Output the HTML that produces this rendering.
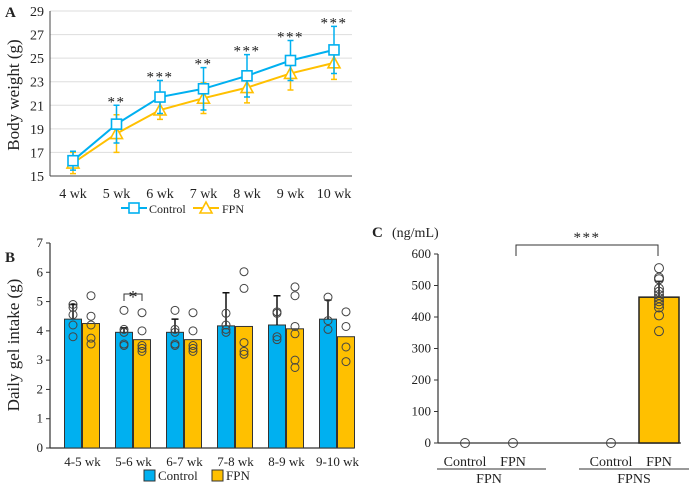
<!DOCTYPE html>
<html><head><meta charset="utf-8"><style>
body{margin:0;background:#fff;}
svg{display:block;font-family:"Liberation Serif",serif;}
</style></head><body>
<svg id="s" width="689" height="486" viewBox="0 0 689 486" xmlns="http://www.w3.org/2000/svg"></svg>
<script>
// Panel A data
const weeksA = ["4 wk","5 wk","6 wk","7 wk","8 wk","9 wk","10 wk"];
const ctrlA = [16.3,19.4,21.7,22.4,23.5,24.8,25.7];
const ctrlAErr = [0.8,1.6,1.4,1.8,1.8,1.7,2.0];
const fpnA = [16.1,18.6,20.6,21.6,22.5,23.7,24.6];
const fpnAErr = [0.9,1.6,0.8,1.3,1.3,1.4,1.4];
const sigA = ["","**","***","**","***","***","***"];
const ticksA = [15,17,19,21,23,25,27,29];
// Panel B data
const catsB = ["4-5 wk","5-6 wk","6-7 wk","7-8 wk","8-9 wk","9-10 wk"];
const ctrlB = [4.4,3.95,3.95,4.17,4.2,4.4];
const ctrlBErr = [0.5,0.15,0.45,1.13,1.0,0.65];
const fpnB = [4.25,3.7,3.7,4.15,4.07,3.8];
const ctrlBDots = [[4.9,4.8,4.55,4.2,3.8],[4.7,4.05,3.95,3.55,3.5],[4.7,4.05,3.95,3.55,3.5],[4.6,4.2,4.05,3.95],[4.65,4.6,3.8,3.7],[5.15,4.35,4.05]];
const fpnBDots = [[5.2,4.5,4.2,3.75,3.55],[4.62,4.0,3.5,3.4,3.3],[4.62,4.0,3.5,3.4,3.3],[6.02,5.45,3.6,3.3,3.2],[5.5,5.2,4.15,3.9,3.0,2.75],[4.65,4.15,3.45,2.95]];
const ticksB = [0,1,2,3,4,5,6,7];
// Panel C data
const catsC = ["Control","FPN","Control","FPN"];
const groupsC = ["FPN","FPNS"];
const meansC = [0,0,0,463];
const errC = [0,0,0,50];
const dotsC = [[0],[0],[0],[555,525,520,490,480,470,460,450,440,430,405,355]];
const ticksC = [0,100,200,300,400,500,600];

const S = document.getElementById('s');
const NS = "http://www.w3.org/2000/svg";
function el(t,a,p){const e=document.createElementNS(NS,t);for(const k in a)e.setAttribute(k,a[k]);(p||S).appendChild(e);return e;}
function tx(x,y,s,size,anchor,name,p){const e=el('text',{x:x,y:y,'font-size':size,'text-anchor':anchor||'middle',fill:'#222'},p);e.textContent=s;return e;}
const BLUE="#00B0F0", YEL="#FFC000";

// ---------- Panel A ----------
const yA = v => 176 - (v-15)*(165/14);
const xA = i => 73 + i*43.5;
tx(5,17,"A",15,"start","panel-a-label").setAttribute('font-weight','bold');
ticksA.forEach(t=>{
  const g=el('line',{x1:50,x2:352,y1:yA(t),y2:yA(t),stroke:t==15?'#444':'#ddd','stroke-width':1});
  
  tx(44,yA(t)+5,String(t),14,"end","a-y-tick");
});
el('line',{x1:50,x2:50,y1:yA(29),y2:yA(15),stroke:'#444'});
const yt=tx(19,95,"Body weight (g)",17,"middle","a-y-axis-title");yt.setAttribute('transform','rotate(-90 19 95)');
weeksA.forEach((w,i)=>tx(xA(i),198,w,14,"middle","a-x-tick"));
function series(vals,err,col,shape,name){
  const pts=vals.map((v,i)=>xA(i)+','+yA(v)).join(' ');
  vals.forEach((v,i)=>{
    const e=el('path',{d:`M${xA(i)} ${yA(v-err[i])}V${yA(v+err[i])}M${xA(i)-3} ${yA(v+err[i])}h6M${xA(i)-3} ${yA(v-err[i])}h6`,stroke:col,'stroke-width':1.5,fill:'none'});
    
  });
  const l=el('polyline',{points:pts,fill:'none',stroke:col,'stroke-width':2});
  
  vals.forEach((v,i)=>{
    let m;
    if(shape=='sq') m=el('rect',{x:xA(i)-5,y:yA(v)-5,width:10,height:10,fill:'#fff',stroke:col,'stroke-width':1.6});
    else m=el('polygon',{points:`${xA(i)},${yA(v)-6} ${xA(i)-6},${yA(v)+5} ${xA(i)+6},${yA(v)+5}`,fill:'#fff',stroke:col,'stroke-width':1.6});
    
  });
}
series(fpnA,fpnAErr,YEL,'tri','fpn');
series(ctrlA,ctrlAErr,BLUE,'sq','control');
sigA.forEach((s,i)=>{if(s){const e=tx(xA(i),yA(ctrlA[i]+ctrlAErr[i])+1,s,15,"middle","a-significance");e.setAttribute('letter-spacing','1.5');}});
// legend A
el('line',{x1:121,x2:147,y1:208,y2:208,stroke:BLUE,'stroke-width':2});
el('rect',{x:129,y:203,width:10,height:10,fill:'#fff',stroke:BLUE,'stroke-width':1.6});
tx(149,213,"Control",12,"start","legend-control");
el('line',{x1:193,x2:219,y1:208,y2:208,stroke:YEL,'stroke-width':2});
el('polygon',{points:"206,202 200,213 212,213",fill:'#fff',stroke:YEL,'stroke-width':1.6});
tx(222,213,"FPN",12,"start","legend-fpn");

// ---------- Panel B ----------
const yB = v => 448 - v*(205/7);
const xB = i => 73.5 + i*51;
tx(5,262,"B",15,"start","panel-b-label").setAttribute('font-weight','bold');
el('line',{x1:50,x2:50,y1:yB(7),y2:yB(0),stroke:'#333','stroke-width':1.2});
el('line',{x1:50,x2:354,y1:yB(0),y2:yB(0),stroke:'#333','stroke-width':1.2});
ticksB.forEach(t=>{el('line',{x1:46,x2:50,y1:yB(t),y2:yB(t),stroke:'#333'});tx(43,yB(t)+4,String(t),13,"end","b-y-tick");});
const ybt=tx(19,345,"Daily gel intake (g)",17,"middle","b-y-axis-title");ybt.setAttribute('transform','rotate(-90 19 345)');
catsB.forEach((c,i)=>{
  const cx=xB(i);
  const b1=el('rect',{x:cx-9,y:yB(ctrlB[i]),width:17,height:yB(0)-yB(ctrlB[i]),fill:BLUE,stroke:'#333','stroke-width':1});
  
  const b2=el('rect',{x:cx+9,y:yB(fpnB[i]),width:17,height:yB(0)-yB(fpnB[i]),fill:YEL,stroke:'#333','stroke-width':1});
  
  const t=ctrlB[i]+ctrlBErr[i];
  el('path',{d:`M${cx-0.5} ${yB(ctrlB[i])}V${yB(t)}M${cx-4} ${yB(t)}h7`,stroke:'#111','stroke-width':1.5,fill:'none'});
  ctrlBDots[i].forEach(v=>{const d=el('circle',{cx:cx-0.5,cy:yB(v),r:4,fill:'none',stroke:'#444','stroke-width':1});});
  fpnBDots[i].forEach(v=>{const d=el('circle',{cx:cx+17.5,cy:yB(v),r:4,fill:'none',stroke:'#444','stroke-width':1});});
  tx(cx+9,466,c,13,"middle","b-x-tick");
});
el('path',{d:`M${xB(1)-0.5} 301V294H${xB(1)+17.5}V301`,stroke:'#333',fill:'none'});
tx(xB(1)+8.5,303,"*",18,"middle","b-significance");
el('rect',{x:144,y:470,width:11,height:11,fill:BLUE,stroke:'#333'});
tx(158,480,"Control",13,"start","legend-b-control");
el('rect',{x:212,y:470,width:11,height:11,fill:YEL,stroke:'#333'});
tx(226,480,"FPN",13,"start","legend-b-fpn");

// ---------- Panel C ----------
const yC = v => 443 - v*(189/600);
const xCs = [465,513,611,659];
tx(372,237,"C",15,"start","panel-c-label").setAttribute('font-weight','bold');
tx(392,237,"(ng/mL)",14,"start","c-unit-label");
el('line',{x1:438,x2:438,y1:yC(600),y2:yC(0),stroke:'#333','stroke-width':1.2});
el('line',{x1:438,x2:681,y1:yC(0),y2:yC(0),stroke:'#333','stroke-width':1.2});
ticksC.forEach(t=>{el('line',{x1:434,x2:438,y1:yC(t),y2:yC(t),stroke:'#333'});tx(431,yC(t)+4,String(t),13,"end","c-y-tick");});
catsC.forEach((c,i)=>{
  const cx=xCs[i];
  if(meansC[i]>0){
    const b=el('rect',{x:cx-20,y:yC(meansC[i]),width:40,height:yC(0)-yC(meansC[i]),fill:YEL,stroke:'#222','stroke-width':1.5});
    
    const t=meansC[i]+errC[i];
    el('path',{d:`M${cx} ${yC(meansC[i])}V${yC(t)}M${cx-4} ${yC(t)}h8`,stroke:'#111','stroke-width':1.5,fill:'none'});
  }
  dotsC[i].forEach(v=>{const d=el('circle',{cx:cx,cy:yC(v),r:4.5,fill:'none',stroke:'#444','stroke-width':1});});
  tx(cx,466,c,14,"middle","c-x-tick");
});
el('line',{x1:437,x2:546,y1:469,y2:469,stroke:'#333'});
el('line',{x1:579,x2:689,y1:469,y2:469,stroke:'#333'});
tx(489,483,groupsC[0],14,"middle","c-group-label");
tx(634,483,groupsC[1],14,"middle","c-group-label");
el('path',{d:"M516 256V245H658V256",stroke:'#333',fill:'none'});
const cs=tx(587,242,"***",15,"middle","c-significance");cs.setAttribute('letter-spacing','1.5');
</script>
</body></html>
